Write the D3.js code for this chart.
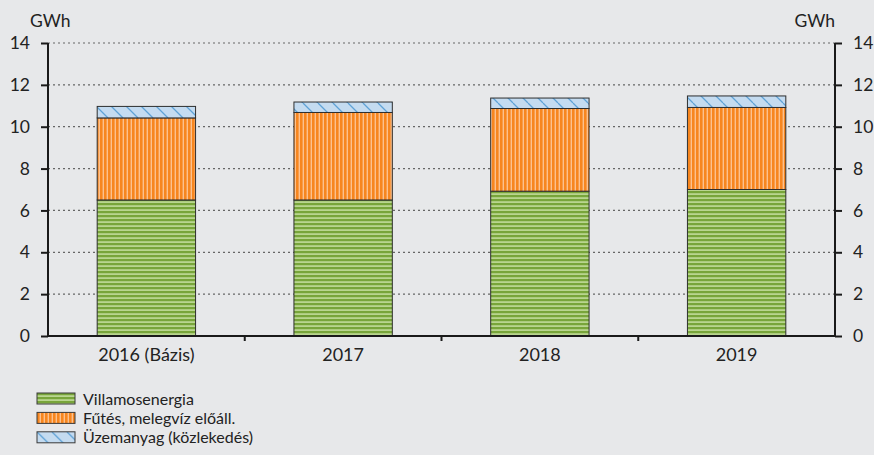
<!DOCTYPE html>
<html>
<head>
<meta charset="utf-8">
<script src="https://cdn.jsdelivr.net/npm/d3@7"></script>
<style>
  body { margin: 0; background: #e7e8ea; }
  svg { display: block; font-family: Lato, "Open Sans", sans-serif; }
</style>
</head>
<body>
<div class="chart"></div>
<script>
var years = ["2016 (Bázis)", "2017", "2018", "2019"];
var seriesNames = ["Villamosenergia", "Fűtés, melegvíz előáll.", "Üzemanyag (közlekedés)"];
var villamos = [6.5, 6.5, 6.92, 7.0];
var futes = [3.92, 4.18, 3.95, 3.92];
var uzemanyag = [0.55, 0.5, 0.5, 0.55];
var yTicks = [0, 2, 4, 6, 8, 10, 12, 14];
var unit = "GWh";

var W = 874, H = 455,
    margin = {top: 43, right: 39, bottom: 119, left: 48},
    width = W - margin.left - margin.right,
    height = H - margin.top - margin.bottom,
    fontSize = "17.5px";

var svg = d3.select(".chart")
  .append("svg")
    .attr("width", W)
    .attr("height", H);

// fill patterns
var defs = svg.append("defs");

var pg = defs.append("pattern")
    .attr("id", "pGreen").attr("patternUnits", "userSpaceOnUse")
    .attr("width", 8).attr("height", 4);
pg.append("rect").attr("width", 8).attr("height", 4).attr("fill", "#b9d58f");
pg.append("rect").attr("y", 0).attr("width", 8).attr("height", 2.2).attr("fill", "#78a53a");

var po = defs.append("pattern")
    .attr("id", "pOrange").attr("patternUnits", "userSpaceOnUse")
    .attr("width", 4).attr("height", 8);
po.append("rect").attr("width", 4).attr("height", 8).attr("fill", "#fcc18e");
po.append("rect").attr("x", 0).attr("width", 2.6).attr("height", 8).attr("fill", "#f7861f");

var pb = defs.append("pattern")
    .attr("id", "pBlue").attr("patternUnits", "userSpaceOnUse")
    .attr("width", 15).attr("height", 15);
pb.append("rect").attr("width", 15).attr("height", 15).attr("fill", "#c4dbf0");
pb.append("path").attr("d", "M0,0 L15,15 M-15,0 L0,15 M0,-15 L15,0")
    .attr("stroke", "#5fa2d6").attr("stroke-width", 1.3);

var fills = ["url(#pGreen)", "url(#pOrange)", "url(#pBlue)"];

var g = svg.append("g")
    .attr("transform", "translate(" + margin.left + "," + margin.top + ")");

var x = d3.scaleBand()
    .domain(years)
    .range([0, width])
    .paddingInner(0.5)
    .paddingOuter(0.25);

var y = d3.scaleLinear()
    .domain([0, 14])
    .range([height, 0]);

// gridlines
g.append("g")
    .selectAll("line")
    .data(yTicks.filter(function(d) { return d > 0; }))
    .enter()
    .append("line")
      .attr("x1", 0)
      .attr("x2", width)
      .attr("y1", function(d) { return y(d); })
      .attr("y2", function(d) { return y(d); })
      .attr("stroke", "#666")
      .attr("stroke-width", 1.2)
      .attr("stroke-dasharray", "2,3");

// stacked bars
var table = years.map(function(yr, i) {
    return {year: yr, v: villamos[i], f: futes[i], u: uzemanyag[i]};
});
var stack = d3.stack().keys(["v", "f", "u"]);
var layers = stack(table);

g.selectAll("g.layer")
    .data(layers)
    .enter()
    .append("g")
      .attr("class", "layer")
      .attr("fill", function(d, i) { return fills[i]; })
    .selectAll("rect")
    .data(function(d) { return d; })
    .enter()
    .append("rect")
      .attr("x", function(d) { return x(d.data.year); })
      .attr("y", function(d) { return y(d[1]); })
      .attr("width", x.bandwidth())
      .attr("height", function(d) { return y(d[0]) - y(d[1]); })
      .attr("stroke", "#2e2e2e")
      .attr("stroke-width", 1);

// axes
var yaxisL = d3.axisLeft(y).tickValues(yTicks).tickSize(7).tickPadding(11);
var yaxisR = d3.axisRight(y).tickValues(yTicks).tickSize(7).tickPadding(11);

var axL = g.append("g").attr("class", "y axis").call(yaxisL);
var axR = g.append("g").attr("class", "y axis")
    .attr("transform", "translate(" + width + ",0)").call(yaxisR);

[axL, axR].forEach(function(a) {
    a.select(".domain").attr("d", "M0,0V" + height).attr("stroke", "#1a1a1a").attr("stroke-width", 2);
    a.selectAll(".tick line").attr("stroke", "#1a1a1a").attr("stroke-width", 2);
    a.selectAll(".tick text").attr("font-size", fontSize).attr("fill", "#222")
        .attr("font-family", "Lato, 'Open Sans', sans-serif");
});

// bottom axis with ticks between categories
var xb = g.append("g")
    .attr("transform", "translate(0," + height + ")");
xb.append("line")
    .attr("x1", 0).attr("x2", width)
    .attr("stroke", "#1a1a1a").attr("stroke-width", 2);
xb.selectAll("line.sep")
    .data(years.slice(1))
    .enter()
    .append("line")
      .attr("class", "sep")
      .attr("x1", function(d) { return x(d) - x.step() * x.paddingInner() / 2; })
      .attr("x2", function(d) { return x(d) - x.step() * x.paddingInner() / 2; })
      .attr("y1", 0).attr("y2", 5)
      .attr("stroke", "#1a1a1a").attr("stroke-width", 2);
xb.selectAll("text")
    .data(years)
    .enter()
    .append("text")
      .attr("x", function(d) { return x(d) + x.bandwidth() / 2; })
      .attr("y", 25)
      .attr("text-anchor", "middle")
      .attr("font-size", "18px")
      .attr("fill", "#222")
      .text(function(d) { return d; });

// unit labels
svg.append("text")
    .attr("x", 30).attr("y", 27)
    .attr("font-size", fontSize).attr("fill", "#222")
    .text(unit);
svg.append("text")
    .attr("x", margin.left + width).attr("y", 27)
    .attr("text-anchor", "end")
    .attr("font-size", fontSize).attr("fill", "#222")
    .text(unit);

// legend
var legend = svg.append("g")
    .attr("transform", "translate(37,393)");
var item = legend.selectAll("g")
    .data(seriesNames)
    .enter()
    .append("g")
      .attr("transform", function(d, i) { return "translate(0," + (i * 19.4) + ")"; });
item.append("rect")
    .attr("width", 38).attr("height", 11)
    .attr("fill", function(d, i) { return fills[i]; })
    .attr("stroke", "#3a3a3a").attr("stroke-width", 1);
item.append("text")
    .attr("x", 46).attr("y", 11.5)
    .attr("font-size", "16px").attr("fill", "#222")
    .text(function(d) { return d; });
</script>
</body>
</html>
